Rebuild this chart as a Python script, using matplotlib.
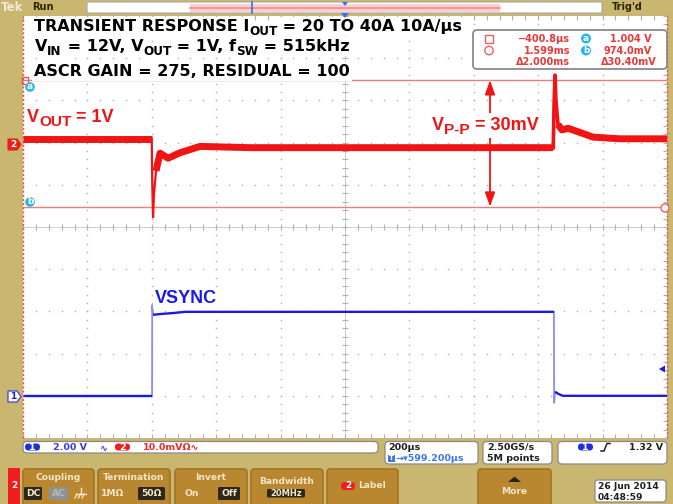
import numpy as np
import matplotlib
matplotlib.use('Agg')
import matplotlib.pyplot as plt
from matplotlib.patches import FancyBboxPatch, Rectangle, Circle, Polygon

# ------------------------------------------------------------------ data
T_LEFT_US = -400.8
T_RIGHT_US = 1599.2
CH1_V_DIV = 2.0
CH1_GND_DIV = 1.0          # ch1 ground marker, divisions above bottom
CH2_MV_DIV = 10.0
CH2_BOTTOM_MV = 919.2      # ch2 value at bottom edge of screen

# VOUT (ch2) key points, time in us, value in mV
vout_pre_t = [-400.8, -1.0]
vout_pre_mv = [990.1, 990.1]
vout_drop_t = [-1.0, 0.5, 3.1, 6.0, 12.4]
vout_drop_mv = [990.1, 980.0, 971.5, 977.0, 982.5]
vout_mid_t = [12.4, 24.8, 49.7, 87.0, 149.0, 304.0, 615.0, 925.0, 1246.0]
vout_mid_mv = [982.5, 986.7, 985.5, 986.8, 988.3, 988.0, 988.0, 988.0, 988.0]
vout_spike_t = [1246.0, 1248.3, 1251.4, 1254.5, 1260.7]
vout_spike_mv = [988.0, 998.0, 1005.2, 999.0, 993.5]
vout_post_t = [1260.7, 1273.1, 1291.7, 1329.0, 1369.4, 1453.0, 1599.2]
vout_post_mv = [993.5, 992.2, 992.6, 991.6, 990.5, 990.1, 990.1]

# VSYNC (ch1) key points, time in us, value in V
vsync_lo1_t = [-400.8, 0.0]
vsync_lo1_v = [0.0, 0.0]
vsync_rise_t = [0.0, 0.5, 3.1]
vsync_rise_v = [0.0, 4.3, 3.84]
vsync_hi_t = [3.1, 30.0, 71.0, 103.0, 1248.0]
vsync_hi_v = [3.84, 3.88, 3.93, 3.98, 3.98]
vsync_fall_t = [1248.0, 1248.8, 1251.4]
vsync_fall_v = [3.98, -0.33, 0.19]
vsync_lo2_t = [1251.4, 1263.0, 1276.0, 1599.2]
vsync_lo2_v = [0.19, 0.08, 0.0, 0.0]

# cursors
cursor_t = [-400.8, 1599.2]
cursor_mv = [1004.0, 974.0]
arrow_t = 1049.5

# text pieces: (text, is_subscript)
title_lines = [
    [('TRANSIENT RESPONSE I', False), ('OUT', True), (' = 20 TO 40A 10A/µs', False)],
    [('V', False), ('IN', True), (' = 12V, V', False), ('OUT', True), (' = 1V, f', False),
     ('SW', True), (' = 515kHz', False)],
    [('ASCR GAIN = 275, RESIDUAL = 100', False)],
]
vout_label = [('V', False), ('OUT', True), (' = 1V', False)]
vpp_label = [('V', False), ('P-P', True), (' = 30mV', False)]
vsync_label = [('VSYNC', False)]
readout_left = ['\u2212400.8µs', '1.599ms', '\u03942.000ms']
readout_right = ['1.004 V', '974.0mV', '\u039430.40mV']

# ------------------------------------------------------------------ style
TAN = '#c9b66f'
BTN = '#b8872f'
BTN_EDGE = '#a27426'
BTN_TXT = '#f4e6c8'
DARK = '#2c281c'
RED = '#f01414'
CUR_RED = '#f27a7a'
BLUE = '#1a1ae6'
CYAN = '#2ab4ec'
GRID = '#b0b0b0'

W, H = 673, 504
fig = plt.figure(figsize=(W / 100, H / 100), dpi=100)
renderer = fig.canvas.get_renderer()

# background / frame axes in pixel coordinates
bg = fig.add_axes([0, 0, 1, 1], zorder=0)
bg.set_xlim(0, W); bg.set_ylim(H, 0); bg.axis('off')
bg.add_patch(Rectangle((0, 0), W, H, fc=TAN, ec='none'))

L, R, T, B = 23, 667, 16, 438
rect = [L / W, 1 - B / H, (R - L) / W, (B - T) / H]

# graticule
gx = fig.add_axes(rect, zorder=1)
gx.set_xlim(0, 10); gx.set_ylim(0, 10)
gx.set_facecolor('white')
for s in gx.spines.values():
    s.set_visible(False)
gx.set_xticks([]); gx.set_yticks([])
minor = np.arange(0, 10.001, 0.2)
for k in range(1, 10):
    if k == 5:
        continue
    gx.plot(np.full_like(minor, k), minor, ls='none', marker='s', ms=1.0, mew=0, color=GRID)
    gx.plot(minor, np.full_like(minor, k), ls='none', marker='s', ms=1.0, mew=0, color=GRID)
gx.axhline(5, color='#c4c4c4', lw=0.6)
gx.axvline(5, color='#c4c4c4', lw=0.6)
gx.plot(minor, np.full_like(minor, 5), ls='none', marker='|', ms=4, mew=0.8, color=GRID)
gx.plot(np.full_like(minor, 5), minor, ls='none', marker='_', ms=4, mew=0.8, color=GRID)
gx.plot(minor, np.full_like(minor, 0.03), ls='none', marker='|', ms=4, mew=0.8, color=GRID, clip_on=False)
gx.plot(minor, np.full_like(minor, 9.97), ls='none', marker='|', ms=4, mew=0.8, color=GRID, clip_on=False)
gx.plot(np.full_like(minor, 9.98), minor, ls='none', marker='_', ms=4, mew=0.8, color=GRID, clip_on=False)

# channel 1 axes (volts)
a1 = fig.add_axes(rect, zorder=2)
a1.set_xlim(T_LEFT_US, T_RIGHT_US)
a1.set_ylim(-CH1_GND_DIV * CH1_V_DIV, (10 - CH1_GND_DIV) * CH1_V_DIV)
a1.axis('off')
a1.patch.set_alpha(0)
LIGHT_BLUE = '#8c8cf4'
a1.plot(vsync_rise_t, vsync_rise_v, color=LIGHT_BLUE, lw=1.3)
a1.plot(vsync_fall_t, vsync_fall_v, color=LIGHT_BLUE, lw=1.3)
for tt, vv in [(vsync_lo1_t, vsync_lo1_v), (vsync_hi_t, vsync_hi_v), (vsync_lo2_t, vsync_lo2_v)]:
    a1.plot(tt, vv, color=BLUE, lw=1.7, solid_capstyle='butt')

# channel 2 axes (mV)
a2 = fig.add_axes(rect, zorder=3)
a2.set_xlim(T_LEFT_US, T_RIGHT_US)
a2.set_ylim(CH2_BOTTOM_MV, CH2_BOTTOM_MV + 10 * CH2_MV_DIV)
a2.axis('off')
a2.patch.set_alpha(0)
for yv in cursor_mv:
    a2.axhline(yv, color=CUR_RED, lw=1.0)
for tv in cursor_t:
    a2.axvline(tv, color='#e85050', lw=1.0, ls=(0, (1.5, 1.5)), clip_on=False)
a2.plot(vout_drop_t, vout_drop_mv, color=RED, lw=1.6)
a2.plot(vout_spike_t, vout_spike_mv, color=RED, lw=2.6, solid_joinstyle='round')
for tt, vv in [(vout_pre_t, vout_pre_mv), (vout_mid_t, vout_mid_mv), (vout_post_t, vout_post_mv)]:
    a2.plot(tt, vv, color=RED, lw=5.0, solid_joinstyle='round', solid_capstyle='butt')
a2.annotate('', xy=(arrow_t, cursor_mv[0]), xytext=(arrow_t, cursor_mv[1]),
            arrowprops=dict(arrowstyle='<|-|>,head_width=0.3,head_length=0.85',
                            color=RED, lw=1.3, shrinkA=0, shrinkB=0))

# overlay (pixel coordinates)
ov = fig.add_axes([0, 0, 1, 1], zorder=4)
ov.set_xlim(0, W); ov.set_ylim(H, 0); ov.axis('off')
ov.patch.set_alpha(0)


def rbox(x0, y0, x1, y1, fc, ec='none', r=3, lw=1.0, ax=ov, z=2):
    ax.add_patch(FancyBboxPatch((x0, y0), x1 - x0, y1 - y0,
                                boxstyle=f'round,pad=0,rounding_size={r}',
                                fc=fc, ec=ec, lw=lw, zorder=z))


def text_advance(s, **kw):
    t1 = ov.text(0, 0, 'X' + s + 'X', **kw)
    w1 = t1.get_window_extent(renderer).width
    t1.remove()
    t0 = ov.text(0, 0, 'XX', **kw)
    w0 = t0.get_window_extent(renderer).width
    t0.remove()
    return w1 - w0


def rich(x, y, pieces, size, family, color, sub_scale=0.8, sub_drop=4.0, pad=1.5):
    for s, sub in pieces:
        fs = size * sub_scale if sub else size
        kw = dict(fontsize=fs, fontweight='bold', family=family)
        yy = y + (sub_drop if sub else 0)
        # white background first, glyphs above it
        ov.text(x, yy, s, color=(0, 0, 0, 0), va='baseline', ha='left',
                bbox=dict(fc='white', ec='none', pad=pad), zorder=5, **kw)
        ov.text(x, yy, s, color=color, va='baseline', ha='left', zorder=6, **kw)
        x += text_advance(s, **kw)


# annotations
for pieces, yb, xs in zip(title_lines, [31, 51, 76], [34, 35, 34]):
    rich(xs, yb, pieces, 11.5, 'DejaVu Sans', 'black', sub_scale=0.75, sub_drop=3.6)
rich(27, 122, vout_label, 13, 'Liberation Sans', RED, sub_scale=0.85, sub_drop=4)
rich(432, 130, vpp_label, 13, 'Liberation Sans', RED, sub_scale=0.85, sub_drop=4, pad=3)
rich(155, 303, vsync_label, 13, 'Liberation Sans', BLUE)

# measurement readout box
rbox(473, 30, 667, 69, 'white', '#8a8a8a', r=4, lw=1.3, z=3)
mono = dict(family='DejaVu Sans', fontweight='bold', fontsize=7)
for i, yc in enumerate([38.5, 50.5, 62.0]):
    ov.text(570, yc, readout_left[i], color='#e83838', ha='right', va='center', zorder=6, **mono)
    ov.text(657 if i == 2 else 652, yc, readout_right[i], color='#e83838', ha='right', va='center', zorder=6, **mono)
ov.add_patch(Rectangle((485, 34.5), 8, 8, fc='none', ec='#ef6060', lw=1.0, zorder=6))
ov.add_patch(Circle((489, 50.5), 4.2, fc='none', ec='#ef6060', lw=1.0, zorder=6))
for yc, lab in [(38.5, 'a'), (50.5, 'b')]:
    ov.add_patch(Circle((586, yc), 5, fc=CYAN, ec='none', zorder=6))
    ov.text(586, yc - 0.3, lab, color='white', fontsize=6.5, fontweight='bold', ha='center', va='center', zorder=7)

# cursor markers on screen
ov.add_patch(Rectangle((22, 77), 6, 7, fc='none', ec='#ef5050', lw=1.0, zorder=6))
for yc, lab in [(87, 'a'), (202, 'b')]:
    ov.add_patch(Circle((30, yc), 4.8, fc=CYAN, ec='none', zorder=6))
    ov.text(30, yc - 0.3, lab, color='white', fontsize=6.5, fontweight='bold', ha='center', va='center', zorder=7)
ov.add_patch(Circle((665, 208), 4.0, fc='white', ec='#ef6060', lw=1.0, zorder=6))

# channel ground markers
ov.add_patch(Polygon([(8, 139), (17, 139), (21, 144.5), (17, 150), (8, 150)], closed=True,
                     fc='#e82020', ec='#e82020', lw=0.8, zorder=6))
ov.text(13, 144.5, '2', color='white', fontsize=6.5, fontweight='bold', ha='center', va='center', zorder=7)
ov.add_patch(Polygon([(8, 391), (17, 391), (21, 396.5), (17, 402), (8, 402)], closed=True,
                     fc='white', ec='#4040e0', lw=0.9, zorder=6))
ov.text(13, 396.5, '1', color='#2020d0', fontsize=6.5, fontweight='bold', ha='center', va='center', zorder=7)
# trigger level arrow
ov.add_patch(Polygon([(659, 369), (665, 365.5), (665, 372.5)], closed=True, fc=BLUE, ec='none', zorder=6))
# trigger position marker
ov.add_patch(Polygon([(341, 13), (349, 13), (345, 18)], closed=True, fc='#3a6ee8', ec='none', zorder=6))

# header
rbox(87, 2, 602, 13, 'white', '#a8a8a8', r=1, lw=0.8, ax=bg)
bg.add_patch(Rectangle((190, 3.5), 310, 8, fc='#f8d0d0', ec='none', zorder=3))
bg.plot([190, 500], [7.5, 7.5], color='#f08a8a', lw=1.2, zorder=4)
bg.plot([252, 252], [2, 13], color='#3a6ee8', lw=1.2, zorder=5)
bg.add_patch(Polygon([(342, 2), (348, 2), (345, 6)], closed=True, fc='#3a6ee8', ec='none', zorder=5))
bg.text(1, 7.5, 'Tek', color='#f3ead6', fontsize=8.5, fontweight='bold', va='center', ha='left')
bg.text(32, 7.5, 'Run', color='#2a2600', fontsize=7, fontweight='bold', va='center', ha='left')
bg.text(612, 7.5, "Trig'd", color='#2a2600', fontsize=7, fontweight='bold', va='center', ha='left')

# status boxes
rbox(23, 441.5, 378, 453, 'white', '#8a8a8a', r=4, lw=0.9, ax=bg)
st = dict(fontsize=6.8, fontweight='bold', family='DejaVu Sans', va='center')
bg.add_patch(FancyBboxPatch((25, 443.5), 15, 7, boxstyle='round,pad=0,rounding_size=3.5', fc='#1f2ee0', ec='none', zorder=3))
bg.text(32.5, 447.2, '1', color='white', ha='center', zorder=4, **st)
bg.text(53, 447.2, '2.00 V', color='#3a3ae0', ha='left', zorder=4, **st)
bg.text(100, 447.2, '\u223f', color='#3a3ae0', ha='left', zorder=4, **st)
bg.add_patch(FancyBboxPatch((115, 443.5), 15, 7, boxstyle='round,pad=0,rounding_size=3.5', fc='#ee1c1c', ec='none', zorder=3))
bg.text(122.5, 447.2, '2', color='white', ha='center', zorder=4, **st)
bg.text(143, 447.2, '10.0mV\u03a9\u223f', color='#ee2a2a', ha='left', zorder=4, **st)

rbox(385, 441.5, 478, 464, 'white', '#8a8a8a', r=4, lw=0.9, ax=bg)
bg.text(388, 447.2, '200µs', color='#202020', ha='left', zorder=4, **st)
bg.add_patch(Rectangle((388, 454.5), 6.5, 7, fc='#3a78e8', ec='none', zorder=3))
bg.text(391.2, 458.2, 'T', color='white', ha='center', zorder=4, fontsize=5, fontweight='bold', va='center')
bg.text(395, 458.2, '\u2192\u25be599.200µs', color='#3a78e8', ha='left', zorder=4, **st)

rbox(483, 441.5, 552, 464, 'white', '#8a8a8a', r=4, lw=0.9, ax=bg)
bg.text(487, 447.2, '2.50GS/s', color='#202020', ha='left', zorder=4, **st)
bg.text(487, 458.2, '5M points', color='#202020', ha='left', zorder=4, **st)

rbox(558, 441.5, 667, 464, 'white', '#8a8a8a', r=4, lw=0.9, ax=bg)
bg.add_patch(FancyBboxPatch((578, 443.5), 15, 7, boxstyle='round,pad=0,rounding_size=3.5', fc='#1f2ee0', ec='none', zorder=3))
bg.text(585.5, 447.2, '1', color='white', ha='center', zorder=4, **st)
bg.plot([601, 604, 607, 610], [451, 451, 443.5, 443.5], color='#202020', lw=1.1, zorder=4)
bg.text(663, 447.2, '1.32 V', color='#202020', ha='right', zorder=4, **st)

# bottom menu buttons
bt = dict(fontsize=6.6, fontweight='bold', family='DejaVu Sans', color=BTN_TXT, ha='center', va='center')
bg.add_patch(Rectangle((8, 468), 12, 40, fc='#f01e1e', ec='none', zorder=2))
bg.text(14, 485, '2', color='white', fontsize=6.5, fontweight='bold', ha='center', va='center', zorder=3)
for x0, x1 in [(23, 94), (98, 170), (175, 247), (251, 323), (327, 398), (478, 551)]:
    rbox(x0, 469, x1, 510, BTN, BTN_EDGE, r=3, lw=1.2, ax=bg)
bg.text(58.5, 478, 'Coupling', zorder=4, **bt)
rbox(24, 487, 42, 500, DARK, ax=bg, r=1.5, z=3)
bg.text(33, 493.5, 'DC', zorder=4, **bt)
rbox(49, 487, 68, 500, '#8c9292', ax=bg, r=1.5, z=3)
bg.text(58.5, 493.5, 'AC', zorder=4, **dict(bt, color='#b4baba'))
bg.plot([81, 81], [488, 494], color=BTN_TXT, lw=1.0, zorder=4)
bg.plot([76, 86], [494, 494], color=BTN_TXT, lw=1.0, zorder=4)
for xx in [77, 80.5, 84]:
    bg.plot([xx, xx - 2], [494, 498], color=BTN_TXT, lw=1.0, zorder=4)
bg.text(134, 478, 'Termination', zorder=4, **bt)
bg.text(113, 493.5, '1M\u03a9', zorder=4, **bt)
rbox(138, 487, 165, 500, DARK, ax=bg, r=1.5, z=3)
bg.text(151.5, 493.5, '50\u03a9', zorder=4, **bt)
bg.text(211, 478, 'Invert', zorder=4, **bt)
bg.text(192, 493.5, 'On', zorder=4, **bt)
rbox(218, 487, 240, 500, DARK, ax=bg, r=1.5, z=3)
bg.text(229, 493.5, 'Off', zorder=4, **bt)
bg.text(287, 481, 'Bandwidth', zorder=4, **bt)
rbox(267, 489, 305, 497.5, DARK, ax=bg, r=1.5, z=3)
bg.text(286, 493.3, '20MHz', zorder=4, **dict(bt, fontsize=6))
bg.add_patch(FancyBboxPatch((341, 482), 14, 8, boxstyle='round,pad=0,rounding_size=4', fc='#f01e1e', ec='none', zorder=3))
bg.text(348, 486, '2', color='white', fontsize=6.3, fontweight='bold', ha='center', va='center', zorder=4)
bg.text(372, 486, 'Label', zorder=4, **bt)
bg.add_patch(Polygon([(508, 482), (514.5, 476.5), (521, 482)], closed=True, fc='#2a2418', ec='none', zorder=4))
bg.text(514.5, 492, 'More', zorder=4, **bt)

rbox(595, 480, 666, 502, 'white', '#8a8a8a', r=3, lw=0.9, ax=bg)
bg.text(598, 486.5, '26 Jun 2014', color='#202020', ha='left', zorder=4, **dict(st, fontsize=6.6))
bg.text(598, 497, '04:48:59', color='#202020', ha='left', zorder=4, **dict(st, fontsize=6.6))

fig.savefig('out.png', dpi=100)
